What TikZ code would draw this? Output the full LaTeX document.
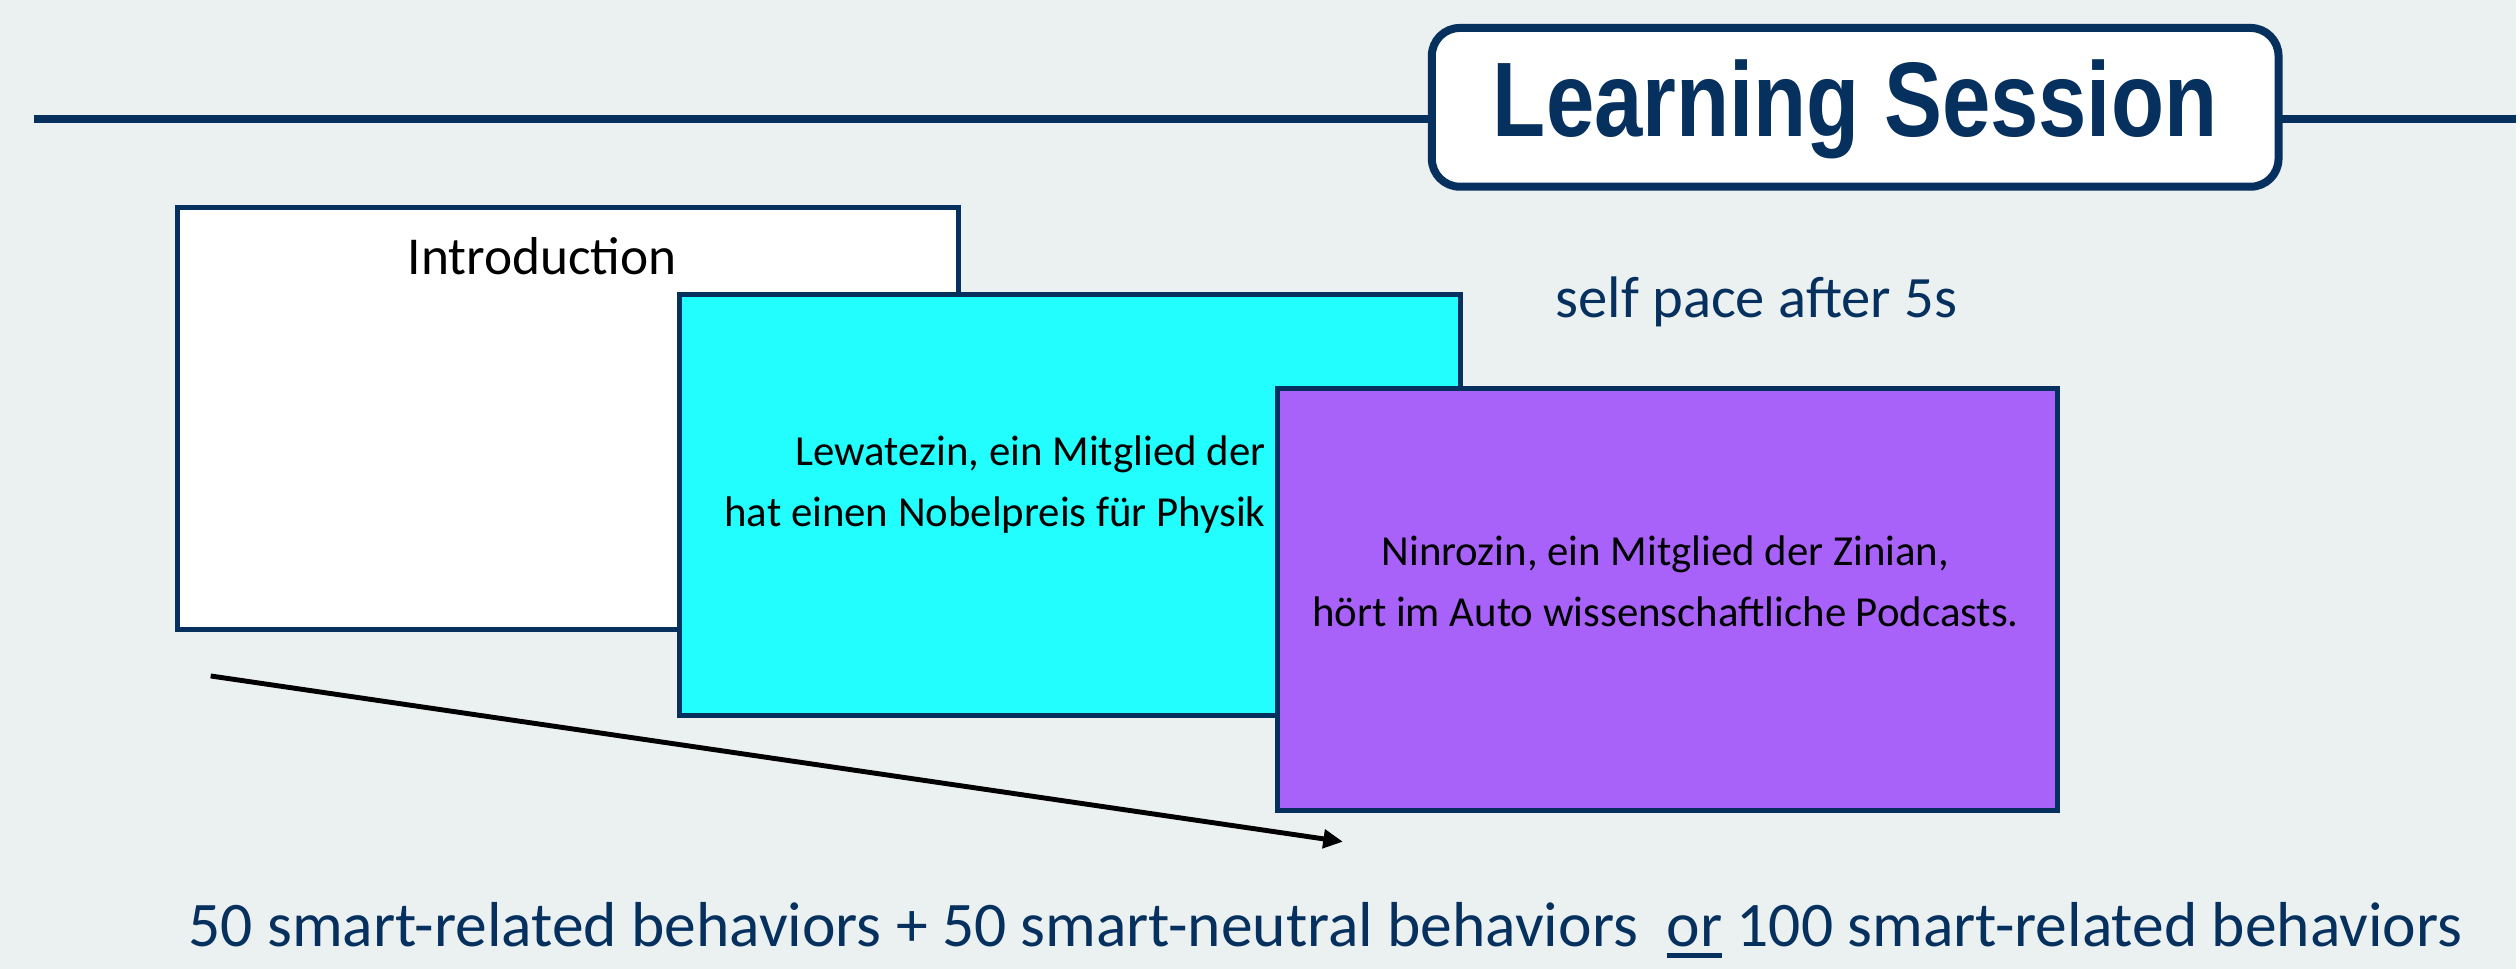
\documentclass[tikz,border=0pt]{standalone}
\usepackage{fontspec}
\setmainfont{Carlito}
\newfontfamily\headfont{Liberation Sans}
\usetikzlibrary{arrows.meta}
\definecolor{navy}{HTML}{06305E}
\definecolor{paper}{HTML}{EBF0F0}
\definecolor{aqua}{HTML}{22FDFD}
\definecolor{lilac}{HTML}{A962F9}
\newcommand{\boxtxt}{\fontsize{12.2}{14.6}\selectfont}
\newcommand{\introtxt}{\fontsize{15.2}{18}\selectfont}
\newcommand{\notetxt}{\fontsize{16.7}{20}\selectfont}
\newcommand{\capttxt}{\fontsize{18.1}{22}\selectfont}
\newcommand{\headtxt}{\fontsize{30.2}{34}\selectfont}
\newcommand{\undr}[1]{\setbox0\hbox{#1}\rlap{\rule[-3.2pt]{\wd0}{1.4pt}}\box0\relax}

\begin{document}
\begin{tikzpicture}[x=0.1mm,y=-0.1mm,
  card/.style={draw=navy,line width=1.42pt,minimum width=7.82cm,minimum height=4.22cm,inner sep=0}]
\fill[paper] (0,0) rectangle (2520,970);
\draw[navy,line width=2.2pt] (34,119) -- (2520,119);
\node[draw=navy,fill=white,line width=2.28pt,rounded corners=0.28cm,minimum width=8.48cm,minimum height=1.59cm,inner sep=0] (title) at (1858,107.5) {};
\node[anchor=base,inner sep=0,text=navy,font=\headtxt\headfont\bfseries] (titletxt) at (1858,137) {\scalebox{0.82}[1]{Learning Session}};
% the three screens, back to front
\node[card,fill=white] (intro) at (569,419) {};
\node[anchor=base,inner sep=0,font=\introtxt] (introtxt) at (543,275) {Introduction};
\node[card,fill=aqua] (lewa) at (1072,505.5) {};
\node[anchor=base east,inner sep=0,font=\boxtxt] (lewa1) at (1268,466) {Lewatezin, ein Mitglied der};
\node[anchor=base east,inner sep=0,font=\boxtxt] (lewa2) at (1268,527) {hat einen Nobelpreis für Physik};
\node[card,fill=lilac] (ninro) at (1670,600.5) {};
\node[anchor=base,inner sep=0,font=\boxtxt] (ninro1) at (1668,566) {Ninrozin, ein Mitglied der Zinian,};
\node[anchor=base,inner sep=0,font=\boxtxt] (ninro2) at (1668,627) {hört im Auto wissenschaftliche Podcasts.};
\node[anchor=base,inner sep=0,text=navy,font=\notetxt] (pace) at (1759,318) {self pace after 5s};
% time arrow
\coordinate (from) at (211,677);
\coordinate (to) at (1345,843);
\draw[black,line width=1.4pt,-{Triangle[length=5.6pt,width=5.2pt]}] (from) -- (to);
\node[anchor=base west,inner sep=0,text=navy,font=\capttxt] (count) at (188,948) {50 smart-related behaviors + 50 smart-neutral behaviors \ \undr{or} 100 smart-related behaviors};
\end{tikzpicture}
\end{document}
